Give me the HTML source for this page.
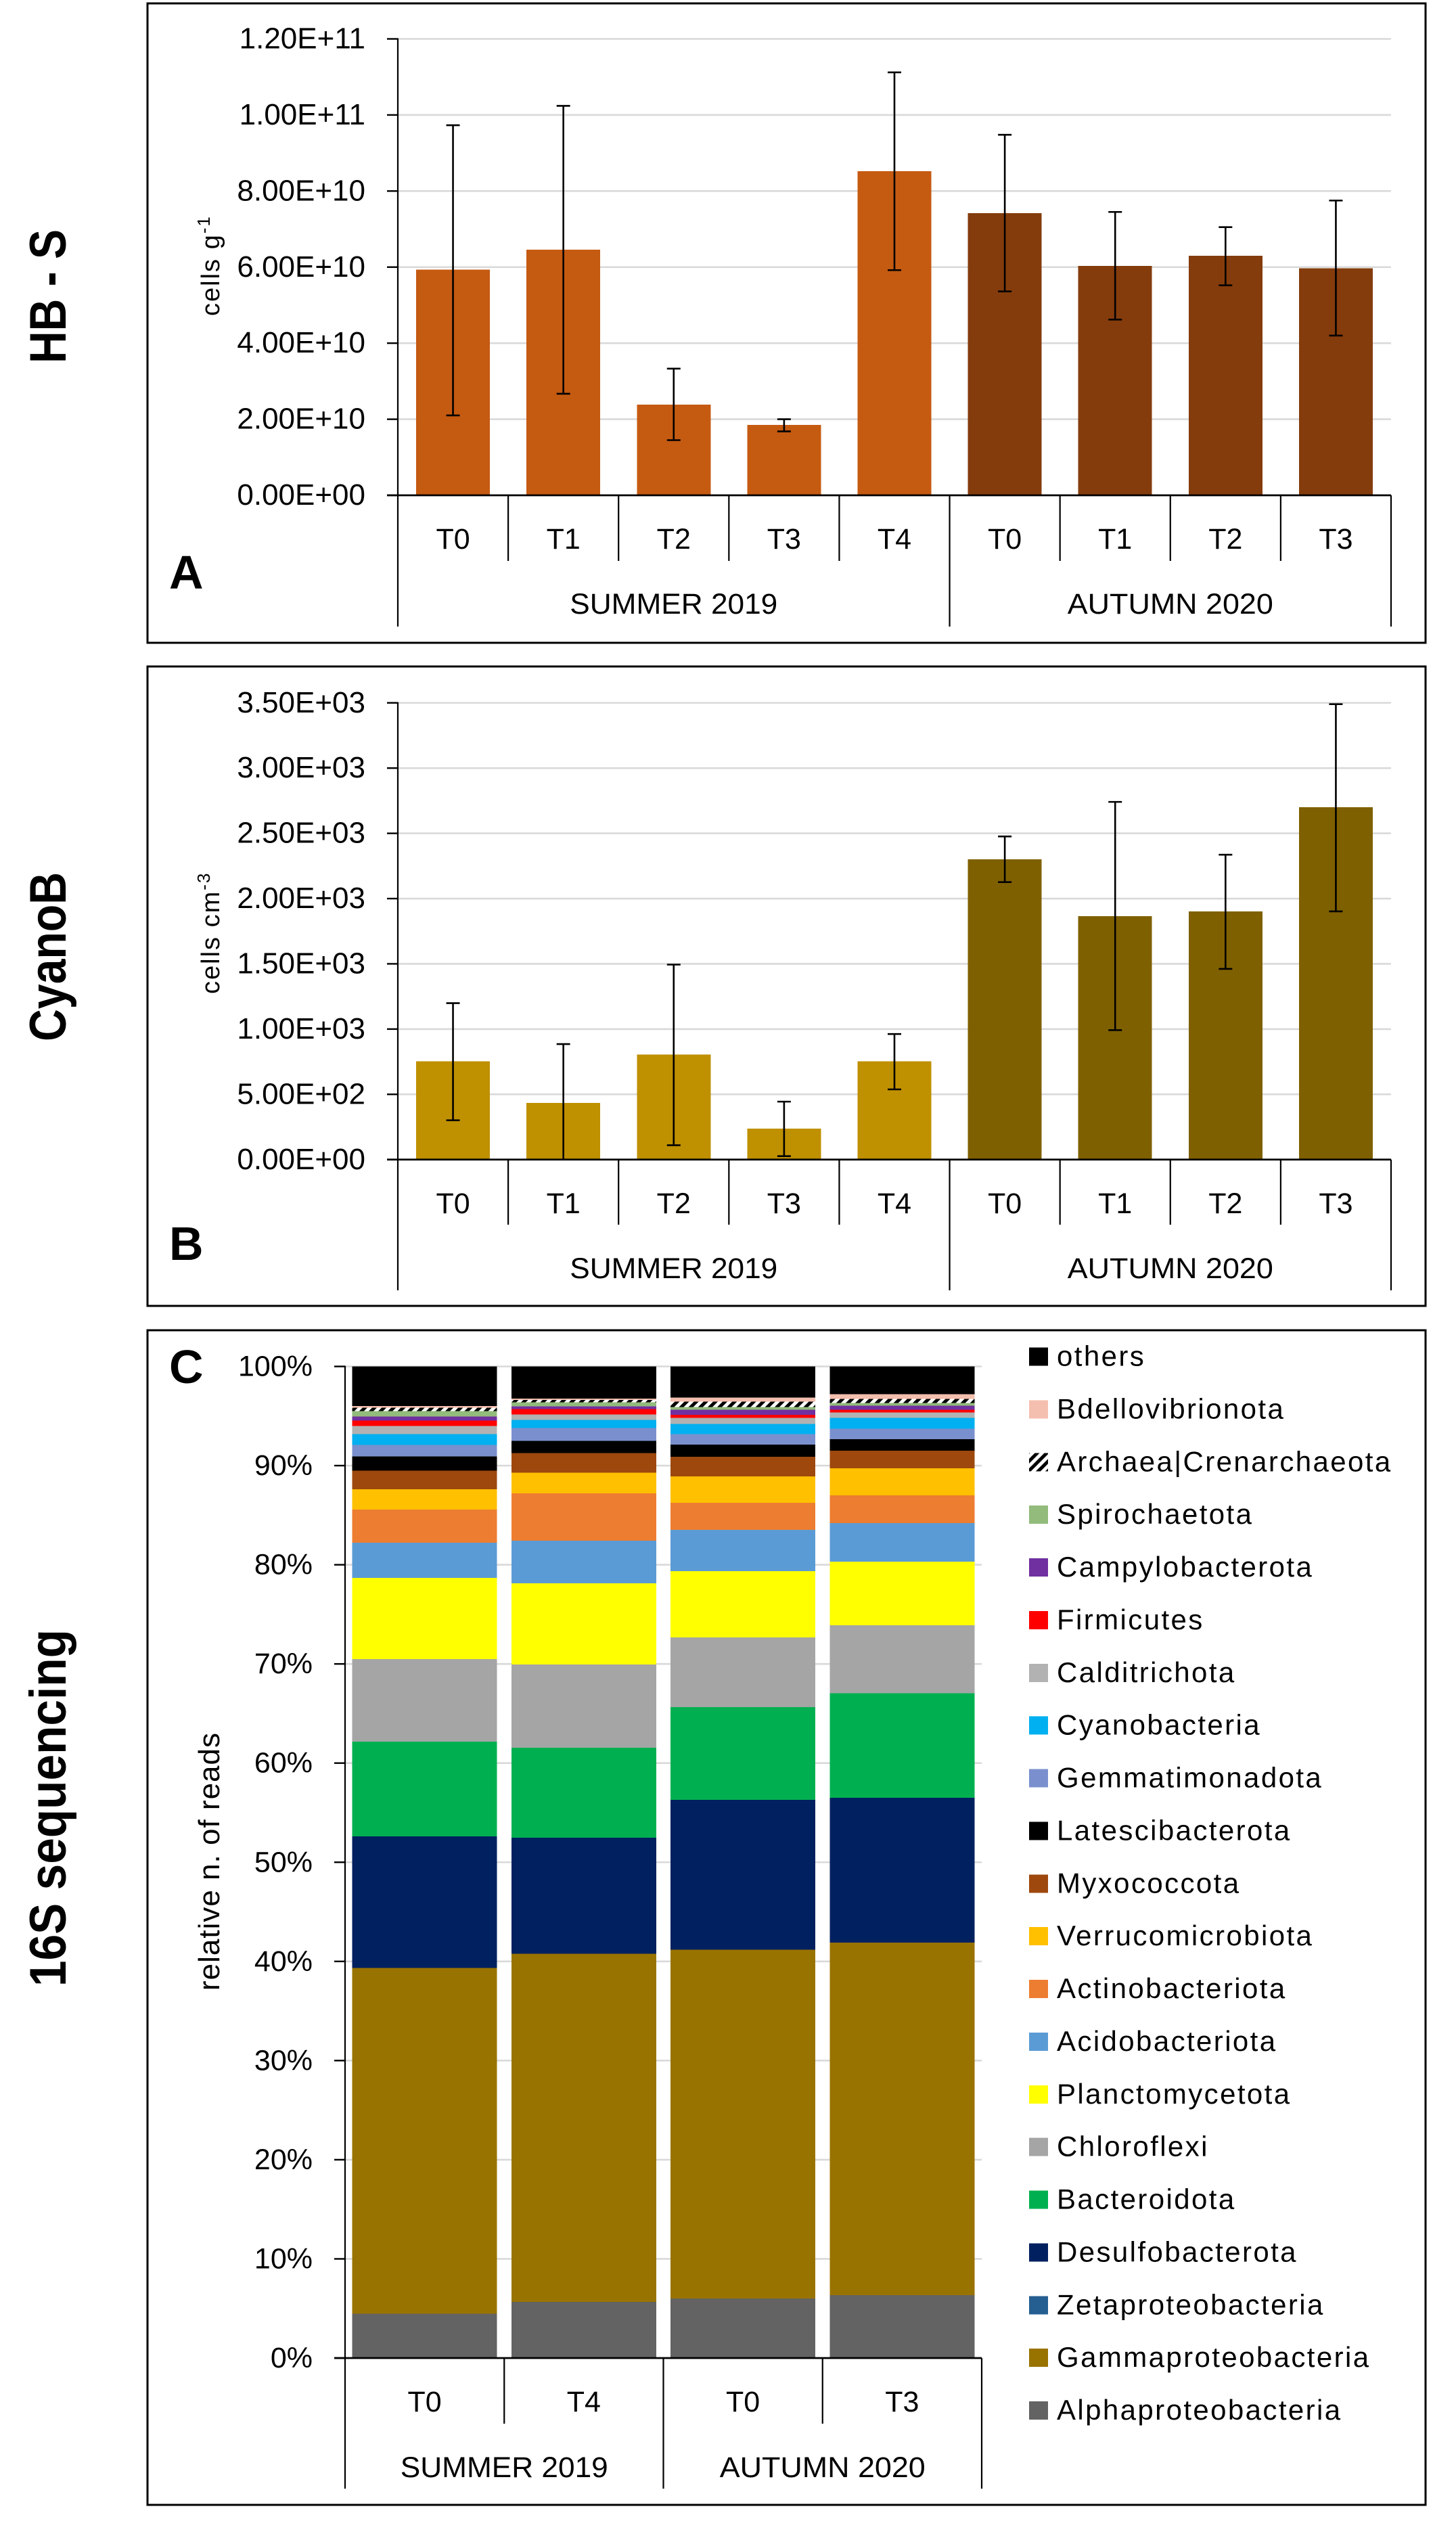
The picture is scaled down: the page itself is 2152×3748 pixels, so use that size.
<!DOCTYPE html>
<html lang="en">
<head>
<meta charset="utf-8">
<title>HB-S, CyanoB and 16S sequencing charts</title>
<style>
html,body{margin:0;padding:0;background:#fff;}
svg{display:block;}
text{font-family:"Liberation Sans",sans-serif;fill:#000;}
</style>
</head>
<body>
<svg id="figure" xmlns="http://www.w3.org/2000/svg" width="2152" height="3748" viewBox="0 0 2152 3748">
<defs>
<pattern id="hatch" patternUnits="userSpaceOnUse" width="10" height="10" patternTransform="rotate(45)">
<rect width="10" height="10" fill="#fff"/>
<rect width="5" height="10" fill="#000"/>
</pattern>
</defs>
<rect x="0" y="0" width="2152" height="3748" fill="#fff"/>
</svg>
<script>
/* ---------- Panel A data (cells g-1) ---------- */
const categoriesA = ['T0','T1','T2','T3','T4','T0','T1','T2','T3'];
const seasonsA = ['SUMMER 2019','SUMMER 2019','SUMMER 2019','SUMMER 2019','SUMMER 2019','AUTUMN 2020','AUTUMN 2020','AUTUMN 2020','AUTUMN 2020'];
const valuesA = [5.93e10,6.46e10,2.38e10,1.85e10,8.52e10,7.42e10,6.03e10,6.30e10,5.97e10];
const errHighA = [9.73e10,10.24e10,3.33e10,2.00e10,11.12e10,9.48e10,7.45e10,7.05e10,7.75e10];
const errLowA = [2.10e10,2.67e10,1.45e10,1.68e10,5.92e10,5.36e10,4.62e10,5.52e10,4.20e10];
const tickValuesA = [0,2e10,4e10,6e10,8e10,1e11,1.2e11];
const tickLabelsA = ['0.00E+00','2.00E+10','4.00E+10','6.00E+10','8.00E+10','1.00E+11','1.20E+11'];

/* ---------- Panel B data (cells cm-3) ---------- */
const categoriesB = ['T0','T1','T2','T3','T4','T0','T1','T2','T3'];
const seasonsB = ['SUMMER 2019','SUMMER 2019','SUMMER 2019','SUMMER 2019','SUMMER 2019','AUTUMN 2020','AUTUMN 2020','AUTUMN 2020','AUTUMN 2020'];
const valuesB = [752,434,804,237,752,2301,1866,1902,2699];
const errHighB = [1199,885,1494,444,962,2476,2741,2336,3490];
const errLowB = [301,0,110,26,538,2126,992,1461,1902];
const tickValuesB = [0,500,1000,1500,2000,2500,3000,3500];
const tickLabelsB = ['0.00E+00','5.00E+02','1.00E+03','1.50E+03','2.00E+03','2.50E+03','3.00E+03','3.50E+03'];

/* ---------- Panel C data (% of reads) ---------- */
const categoriesC = ['T0','T4','T0','T3'];
const seasonsC = ['SUMMER 2019','SUMMER 2019','AUTUMN 2020','AUTUMN 2020'];
const tickValuesC = [0,10,20,30,40,50,60,70,80,90,100];
const tickLabelsC = ['0%','10%','20%','30%','40%','50%','60%','70%','80%','90%','100%'];
const alphaproteobacteria = [4.46,5.65,5.99,6.33];
const gammaproteobacteria = [34.89,35.11,35.20,35.56];
const zetaproteobacteria = [0,0,0,0];
const desulfobacterota = [13.25,11.70,15.09,14.62];
const bacteroidota = [9.58,9.10,9.38,10.53];
const chloroflexi = [8.30,8.38,7.02,6.87];
const planctomycetota = [8.18,8.20,6.68,6.41];
const acidobacteriota = [3.57,4.30,4.16,3.89];
const actinobacteriota = [3.35,4.78,2.73,2.80];
const verrucomicrobiota = [2.05,2.05,2.67,2.73];
const myxococcota = [1.85,1.98,1.98,1.78];
const latescibacterota = [1.44,1.23,1.23,1.16];
const gemmatimonadota = [1.16,1.30,1.03,1.03];
const cyanobacteria = [1.09,0.82,1.03,1.09];
const calditrichota = [0.82,0.55,0.62,0.55];
const firmicutes = [0.55,0.55,0.30,0.27];
const campylobacterota = [0.41,0.27,0.52,0.41];
const spirochaetota = [0.55,0.41,0.27,0.27];
const crenarchaeota = [0.34,0.25,0.55,0.41];
const bdellovibrionota = [0.18,0.14,0.41,0.48];
const others = [3.98,3.23,3.14,2.81];

const stackSeries = [
  ['Alphaproteobacteria',alphaproteobacteria,'#636363'],
  ['Gammaproteobacteria',gammaproteobacteria,'#997300'],
  ['Zetaproteobacteria',zetaproteobacteria,'#255E91'],
  ['Desulfobacterota',desulfobacterota,'#002060'],
  ['Bacteroidota',bacteroidota,'#00B050'],
  ['Chloroflexi',chloroflexi,'#A5A5A5'],
  ['Planctomycetota',planctomycetota,'#FFFF00'],
  ['Acidobacteriota',acidobacteriota,'#5B9BD5'],
  ['Actinobacteriota',actinobacteriota,'#ED7D31'],
  ['Verrucomicrobiota',verrucomicrobiota,'#FFC000'],
  ['Myxococcota',myxococcota,'#9E480E'],
  ['Latescibacterota',latescibacterota,'#000000'],
  ['Gemmatimonadota',gemmatimonadota,'#7A90CE'],
  ['Cyanobacteria',cyanobacteria,'#00B0F0'],
  ['Calditrichota',calditrichota,'#B2B2B2'],
  ['Firmicutes',firmicutes,'#FF0000'],
  ['Campylobacterota',campylobacterota,'#7030A0'],
  ['Spirochaetota',spirochaetota,'#92BB7C'],
  ['Archaea|Crenarchaeota',crenarchaeota,'url(#hatch)'],
  ['Bdellovibrionota',bdellovibrionota,'#F4BFAF'],
  ['others',others,'#000000']
];

const svg = document.getElementById('figure');
const NS = 'http://www.w3.org/2000/svg';
const slug = s => String(s).toLowerCase().replace(/[^a-z0-9]+/g,'-').replace(/^-|-$/g,'');

function addRect(x,y,w,h,fill,name){
  const el = document.createElementNS(NS,'rect');
  
  
  el.setAttribute('x',x);
  el.setAttribute('y',y);
  el.setAttribute('width',w);
  el.setAttribute('height',Math.max(h,0));
  el.setAttribute('fill',fill);
  el.setAttribute('shape-rendering','crispEdges');
  svg.appendChild(el);
  return el;
}
function addLine(x1,y1,x2,y2,color,width,name){
  const el = document.createElementNS(NS,'line');
  
  
  el.setAttribute('x1',x1);
  el.setAttribute('y1',y1);
  el.setAttribute('x2',x2);
  el.setAttribute('y2',y2);
  el.setAttribute('stroke',color);
  el.setAttribute('stroke-width',width);
  svg.appendChild(el);
  return el;
}
function addText(x,y,str,size,anchor,name){
  const el = document.createElementNS(NS,'text');
  
  
  el.setAttribute('x',x);
  el.setAttribute('y',y);
  el.setAttribute('font-size',size);
  el.setAttribute('text-anchor',anchor);
  el.textContent = str;
  svg.appendChild(el);
  return el;
}
function addPanelFrame(x1,y1,x2,y2,name){
  const el = document.createElementNS(NS,'rect');
  
  
  el.setAttribute('x',x1);
  el.setAttribute('y',y1);
  el.setAttribute('width',x2-x1);
  el.setAttribute('height',y2-y1);
  el.setAttribute('fill','none');
  el.setAttribute('stroke','#000');
  el.setAttribute('stroke-width',3);
  svg.appendChild(el);
}
function addRotatedTitle(cx,base,str,size,len,name){
  const el = addText(0,0,str,size,'middle',name);
  el.setAttribute('transform','translate('+base+','+cx+') rotate(-90)');
  el.setAttribute('font-weight','bold');
  el.setAttribute('textLength',len);
  el.setAttribute('lengthAdjust','spacingAndGlyphs');
}
function addUnitTitle(base,startY,main,sup,name){
  const el = document.createElementNS(NS,'text');
  
  
  el.setAttribute('transform','translate('+base+','+startY+') rotate(-90)');
  el.setAttribute('font-size',38);
  el.setAttribute('letter-spacing',2);
  const a = document.createElementNS(NS,'tspan');
  a.textContent = main;
  const b = document.createElementNS(NS,'tspan');
  b.setAttribute('dy',-14);
  b.setAttribute('font-size',26);
  b.textContent = sup;
  el.appendChild(a);
  el.appendChild(b);
  svg.appendChild(el);
}

/* shared category axis: gridlines, y ticks, two-level x axis */
function drawAxes(p,categories,seasons,tickValues,tickLabels,yScale,prefix){
  const bandW = (p.right-p.left)/categories.length;
  tickValues.forEach((v,i)=>{
    const y = yScale(v);
    if(v>0){ addLine(p.left,y,p.right,y,'#D9D9D9',2.6,prefix+'-gridline-'+i); }
    addLine(p.left-16,y,p.left,y,'#000',2.4,prefix+'-y-tick-'+i);
    addText(p.labelRight,y+14,tickLabels[i],p.tickFontSize,'end',prefix+'-y-tick-label-'+slug(tickLabels[i]));
  });
  return bandW;
}
function drawCategoryAxis(p,categories,seasons,bandW,prefix,lens){
  const zero = p.zero;
  addLine(p.left,p.top-1,p.left,p.groupEnd,'#000',2.2,prefix+'-y-axis-line');
  addLine(p.left-16,zero,p.right,zero,'#000',2.8,prefix+'-x-axis-line');
  categories.forEach((c,i)=>{
    const cx = p.left+bandW*(i+0.5);
    addText(cx,p.catBase,c,p.fontSize,'middle',prefix+'-x-label-'+slug(c)+'-'+i);
    const nextIsGroup = i===categories.length-1 || seasons[i]!==seasons[i+1];
    addLine(p.left+bandW*(i+1),zero,p.left+bandW*(i+1),nextIsGroup?p.groupEnd:p.tickEnd,'#000',2.2,prefix+'-x-separator-'+i);
  });
  const groups = [...new Set(seasons)];
  groups.forEach(g=>{
    const first = seasons.indexOf(g);
    const last = seasons.lastIndexOf(g);
    const cx = p.left+bandW*((first+last+1)/2);
    const el = addText(cx,p.groupBase,g,p.fontSize,'middle',prefix+'-group-label-'+slug(g));
    el.setAttribute('textLength',lens[g]);
    el.setAttribute('lengthAdjust','spacingAndGlyphs');
  });
}
function drawBarPanel(p,categories,seasons,values,high,low,tickValues,tickLabels,colors,prefix){
  const yScale = v => p.zero-(v/p.max)*(p.zero-p.top);
  const bandW = drawAxes(p,categories,seasons,tickValues,tickLabels,yScale,prefix);
  const barW = bandW*0.668;
  values.forEach((v,i)=>{
    const cx = p.left+bandW*(i+0.5);
    const y = yScale(v);
    const season = seasons[i];
    addRect(cx-barW/2,y,barW,p.zero-y,colors[season],prefix+'-bar-'+slug(season)+'-'+categories[i].toLowerCase());
  });
  drawCategoryAxis(p,categories,seasons,bandW,prefix,{'SUMMER 2019':307,'AUTUMN 2020':304});
  values.forEach((v,i)=>{
    const cx = p.left+bandW*(i+0.5);
    const yh = yScale(high[i]);
    const yl = yScale(low[i]);
    const tag = prefix+'-error-bar-'+slug(seasons[i])+'-'+categories[i].toLowerCase();
    addLine(cx,yh,cx,yl,'#000',2.6,tag);
    addLine(cx-10,yh,cx+10,yh,'#000',2.6,tag+'-cap-high');
    addLine(cx-10,yl,cx+10,yl,'#000',2.6,tag+'-cap-low');
  });
}

/* Panel frames */
addPanelFrame(218,5,2107,950,'panel-a-frame');
addPanelFrame(218,985,2107,1930,'panel-b-frame');
addPanelFrame(218,1966,2107,3702,'panel-c-frame');

/* Panel A */
const layoutA = {left:588,right:2056,top:57.5,zero:732,max:1.2e11,labelRight:540,fontSize:43,tickFontSize:44,catBase:811,tickEnd:829,groupEnd:926,groupBase:907};
drawBarPanel(layoutA,categoriesA,seasonsA,valuesA,errHighA,errLowA,tickValuesA,tickLabelsA,{'SUMMER 2019':'#C55A11','AUTUMN 2020':'#843C0C'},'a');
addUnitTitle(324,467,'cells g','-1','a-y-axis-title');
addRotatedTitle(438,97,'HB - S',76,198,'hb-s-row-title');
addText(250,870,'A',70,'start','panel-label-a').setAttribute('font-weight','bold');

/* Panel B */
const layoutB = {left:588,right:2056,top:1038.75,zero:1713.75,max:3500,labelRight:540,fontSize:43,tickFontSize:44,catBase:1793,tickEnd:1810,groupEnd:1907,groupBase:1889};
drawBarPanel(layoutB,categoriesB,seasonsB,valuesB,errHighB,errLowB,tickValuesB,tickLabelsB,{'SUMMER 2019':'#BF9000','AUTUMN 2020':'#7F6000'},'b');
addUnitTitle(324,1469,'cells cm','-3','b-y-axis-title');
addRotatedTitle(1414,97,'CyanoB',76,250,'cyanob-row-title');
addText(250,1862,'B',70,'start','panel-label-b').setAttribute('font-weight','bold');

/* Panel C */
const layoutC = {left:510,right:1451,top:2019.5,zero:3485,max:100,labelRight:462,fontSize:43,tickFontSize:43,catBase:3564,tickEnd:3582,groupEnd:3678,groupBase:3661};
(function(){
  const p = layoutC;
  const yScale = v => p.zero-(v/p.max)*(p.zero-p.top);
  const bandW = drawAxes(p,categoriesC,seasonsC,tickValuesC,tickLabelsC,yScale,'c');
  const barW = bandW*0.91;
  categoriesC.forEach((c,i)=>{
    const cx = p.left+bandW*(i+0.5);
    let cum = 0;
    stackSeries.forEach(s=>{
      const v = s[1][i];
      const y1 = yScale(cum+v);
      const y0 = yScale(cum);
      if(v>0){ addRect(cx-barW/2,y1,barW,y0-y1,s[2],'c-segment-'+slug(s[0])+'-'+slug(seasonsC[i])+'-'+c.toLowerCase()); }
      cum += v;
    });
  });
  drawCategoryAxis(p,categoriesC,seasonsC,bandW,'c',{'SUMMER 2019':307,'AUTUMN 2020':304});
})();
const cTitle = addText(0,0,'relative n. of reads',44,'middle','c-y-axis-title');
cTitle.setAttribute('transform','translate(324,2751) rotate(-90)');
cTitle.setAttribute('letter-spacing',1);
addRotatedTitle(2672,97,'16S sequencing',76,528,'16s-sequencing-row-title');
addText(250,2044,'C',70,'start','panel-label-c').setAttribute('font-weight','bold');

/* Legend */
stackSeries.forEach((s,i)=>{
  const row = stackSeries.length-1-i;
  const cy = 2005+row*77.88;
  addRect(1521,cy-13.5,28,27,s[2],'legend-swatch-'+slug(s[0]));
  const t = addText(1562,cy+13.5,s[0],42,'start','legend-entry-'+slug(s[0]));
  t.setAttribute('letter-spacing',2.4);
});
</script>
</body>
</html>
